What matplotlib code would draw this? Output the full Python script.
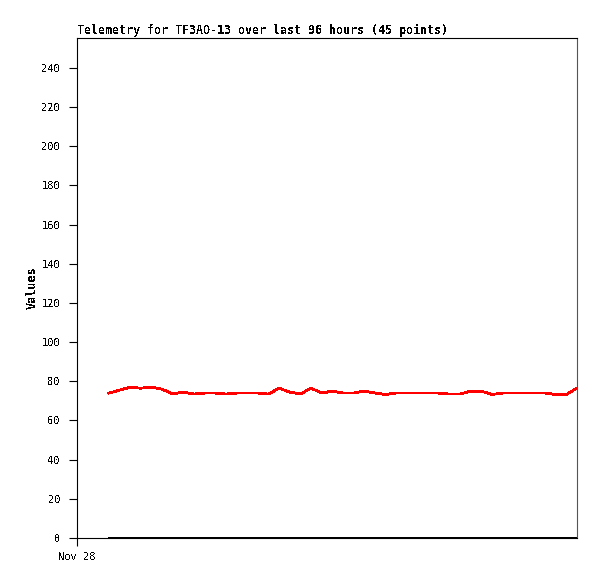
import matplotlib
matplotlib.use("Agg")
import matplotlib.pyplot as plt

# hours since Nov 28 00:00, one reading every 2 hours
hours = [6 + 2 * i for i in range(45)]
values = [74, 75.5, 77, 76.5, 77, 76, 73.5, 74.5, 73.5, 74,
          74, 73.5, 74, 74, 74, 73.5, 76.5, 74.5, 73.5, 76.5,
          74, 75, 74, 74, 75, 74, 73.3, 74, 74, 74,
          74, 74, 73.5, 73.5, 75, 75, 73.3, 74, 74, 74,
          74, 74, 73.3, 73.3, 76.5]
zeros = [0] * 45
y_ticks = list(range(0, 241, 20))
x_ticks = [0]
x_labels = ["Nov 28"]

plt.rcParams['font.family'] = 'DejaVu Sans Mono'
plt.rcParams['text.antialiased'] = False

fig = plt.figure(figsize=(5.97, 5.79), dpi=100)
ax = fig.add_axes([77 / 597, 41 / 579, 500 / 597, 500 / 579])

ax.plot(hours, values, color='#ff0000', lw=1.3, antialiased=False)
ax.plot(hours, zeros, color='black', lw=1.3, antialiased=False, clip_on=False)

ax.set_xlim(0, 94)
ax.set_ylim(0, 255.3)
ax.set_yticks(y_ticks)
ax.set_xticks(x_ticks)
ax.set_xticklabels(x_labels)
ax.tick_params(axis='both', direction='out', length=6, width=0.8,
               labelsize=7.5, pad=4)
ax.tick_params(axis='y', pad=6)

for side in ['left', 'bottom', 'top']:
    ax.spines[side].set_color('black')
    ax.spines[side].set_linewidth(0.8)
ax.spines['right'].set_color('#555555')
ax.spines['right'].set_linewidth(0.8)

ax.set_ylabel("Values", fontsize=8.5, fontweight='bold', labelpad=2)
ax.set_title("Telemetry for TF3AO-13 over last 96 hours (45 points)",
             loc='left', fontsize=8.35, fontweight='bold', pad=3)

fig.savefig("out.png", dpi=100)
